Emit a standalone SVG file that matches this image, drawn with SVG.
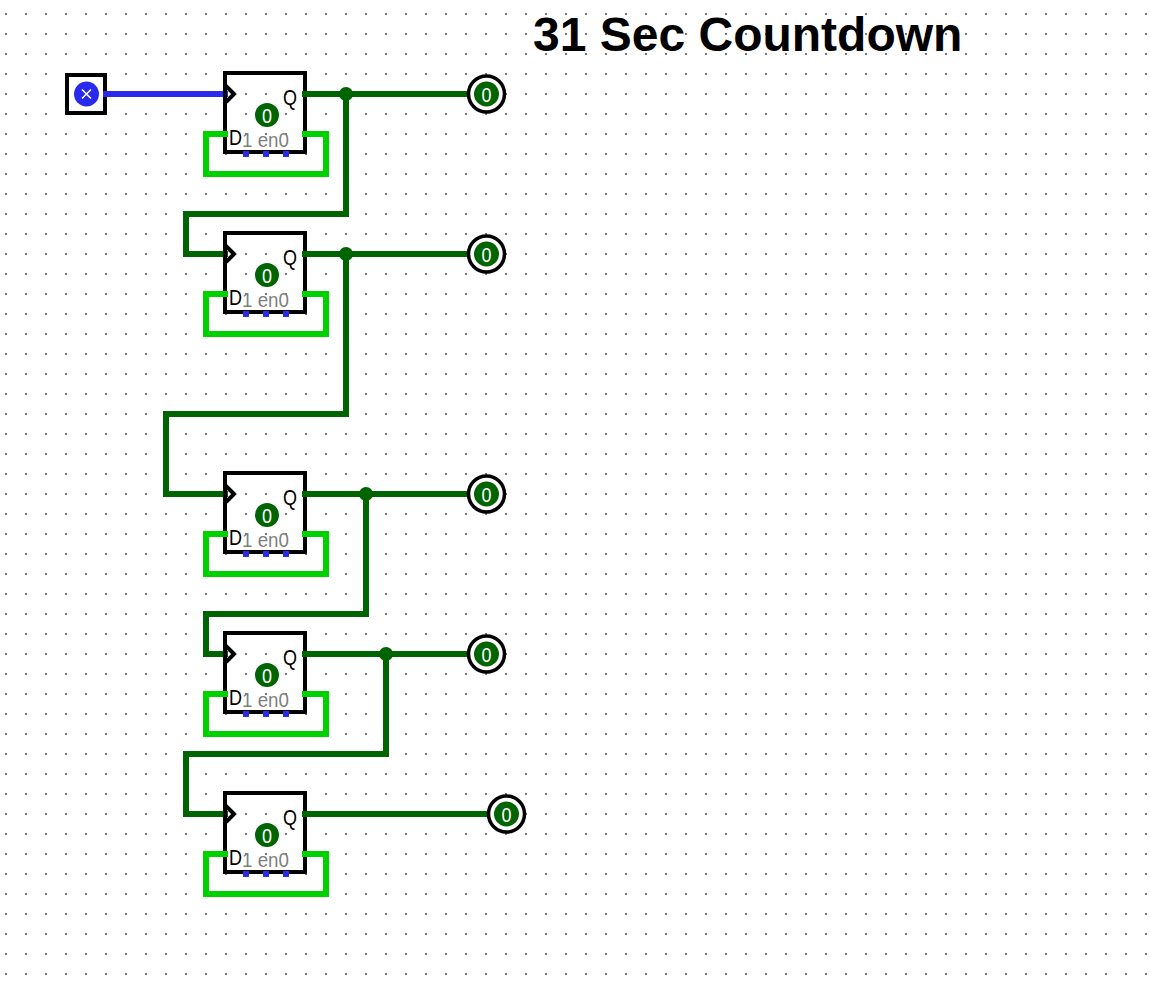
<svg xmlns="http://www.w3.org/2000/svg" width="1150" height="989" viewBox="0 0 1150 989">
<style>
text{font-family:"Liberation Sans",Arial,sans-serif}
.w{fill:none;stroke:#006400;stroke-width:6}
.loop{fill:none;stroke:#00d200;stroke-width:6}
.box{fill:none;stroke:#000;stroke-width:4}
.clk{fill:none;stroke:#000;stroke-width:4}
.val{fill:#006400}
.vt{fill:#fff;font-size:20px;text-anchor:middle}
.lab{fill:#000;font-size:22px}
.gl{fill:#808080;font-size:20px}
.pt{fill:#2a2aee}
.j{fill:#006400}
.ring{fill:#fff;stroke:#000;stroke-width:3.5}
</style>
<defs>
<pattern id="grid" width="20" height="20" patternUnits="userSpaceOnUse" x="0" y="0"><rect x="5" y="13" width="2" height="2" fill="#777"/></pattern>
</defs>
<rect width="1150" height="989" fill="#fff"/>
<rect id="dots" width="1150" height="980" fill="url(#grid)"/>
<text id="title" x="533" y="51" font-size="48" font-weight="bold" fill="#000">31 Sec Countdown</text>
<g id="clock">
<rect x="67" y="75" width="38" height="38" fill="#fff" stroke="#000" stroke-width="4"/>
<circle cx="86.500" cy="94" r="12.500" fill="#2a2aee"/>
<path d="M82 89.500l9 9M91 89.500l-9 9" stroke="#fff" stroke-width="1.500"/>
</g>
<g id="connectors">
<path d="M103 94H228" fill="none" stroke="#2a2aee" stroke-width="6"/>
<path class="w" d="M302 94H468M346 94V214H186V254H228"/>
<path class="w" d="M302 254H468M346 254V414H166V494H228"/>
<path class="w" d="M302 494H468M366 494V614H206V654H228"/>
<path class="w" d="M302 654H468M386 654V754H186V814H228"/>
<path class="w" d="M302 814H488"/>
<circle class="j" cx="346" cy="94" r="7"/>
<circle class="j" cx="346" cy="254" r="7"/>
<circle class="j" cx="366" cy="494" r="7"/>
<circle class="j" cx="386" cy="654" r="7"/>
</g>
<g id="ff0" transform="translate(0,0)">
<rect class="box" x="225" y="73" width="80" height="79"/>
<path class="w" d="M302 94H308"/>
<path class="loop" d="M228 134H206V174H326V134H302"/>
<path class="clk" d="M226 86L234 94L226 102"/>
<circle class="val" cx="267" cy="115" r="12"/>
<text class="vt" x="267" y="122.500" textLength="10" lengthAdjust="spacingAndGlyphs">0</text>
<text class="lab" x="283" y="105" textLength="14" lengthAdjust="spacingAndGlyphs">Q</text>
<text class="lab" x="229" y="145" textLength="13" lengthAdjust="spacingAndGlyphs">D</text>
<text class="gl" x="242" y="147" textLength="47" lengthAdjust="spacingAndGlyphs">1 en0</text>
<rect class="pt" x="243" y="151" width="6" height="6"/><rect class="pt" x="263" y="151" width="6" height="6"/><rect class="pt" x="283" y="151" width="6" height="6"/>
</g>
<g id="ff1" transform="translate(0,160)">
<rect class="box" x="225" y="73" width="80" height="79"/>
<path class="w" d="M302 94H308"/>
<path class="loop" d="M228 134H206V174H326V134H302"/>
<path class="clk" d="M226 86L234 94L226 102"/>
<circle class="val" cx="267" cy="115" r="12"/>
<text class="vt" x="267" y="122.500" textLength="10" lengthAdjust="spacingAndGlyphs">0</text>
<text class="lab" x="283" y="105" textLength="14" lengthAdjust="spacingAndGlyphs">Q</text>
<text class="lab" x="229" y="145" textLength="13" lengthAdjust="spacingAndGlyphs">D</text>
<text class="gl" x="242" y="147" textLength="47" lengthAdjust="spacingAndGlyphs">1 en0</text>
<rect class="pt" x="243" y="151" width="6" height="6"/><rect class="pt" x="263" y="151" width="6" height="6"/><rect class="pt" x="283" y="151" width="6" height="6"/>
</g>
<g id="ff2" transform="translate(0,400)">
<rect class="box" x="225" y="73" width="80" height="79"/>
<path class="w" d="M302 94H308"/>
<path class="loop" d="M228 134H206V174H326V134H302"/>
<path class="clk" d="M226 86L234 94L226 102"/>
<circle class="val" cx="267" cy="115" r="12"/>
<text class="vt" x="267" y="122.500" textLength="10" lengthAdjust="spacingAndGlyphs">0</text>
<text class="lab" x="283" y="105" textLength="14" lengthAdjust="spacingAndGlyphs">Q</text>
<text class="lab" x="229" y="145" textLength="13" lengthAdjust="spacingAndGlyphs">D</text>
<text class="gl" x="242" y="147" textLength="47" lengthAdjust="spacingAndGlyphs">1 en0</text>
<rect class="pt" x="243" y="151" width="6" height="6"/><rect class="pt" x="263" y="151" width="6" height="6"/><rect class="pt" x="283" y="151" width="6" height="6"/>
</g>
<g id="ff3" transform="translate(0,560)">
<rect class="box" x="225" y="73" width="80" height="79"/>
<path class="w" d="M302 94H308"/>
<path class="loop" d="M228 134H206V174H326V134H302"/>
<path class="clk" d="M226 86L234 94L226 102"/>
<circle class="val" cx="267" cy="115" r="12"/>
<text class="vt" x="267" y="122.500" textLength="10" lengthAdjust="spacingAndGlyphs">0</text>
<text class="lab" x="283" y="105" textLength="14" lengthAdjust="spacingAndGlyphs">Q</text>
<text class="lab" x="229" y="145" textLength="13" lengthAdjust="spacingAndGlyphs">D</text>
<text class="gl" x="242" y="147" textLength="47" lengthAdjust="spacingAndGlyphs">1 en0</text>
<rect class="pt" x="243" y="151" width="6" height="6"/><rect class="pt" x="263" y="151" width="6" height="6"/><rect class="pt" x="283" y="151" width="6" height="6"/>
</g>
<g id="ff4" transform="translate(0,720)">
<rect class="box" x="225" y="73" width="80" height="79"/>
<path class="w" d="M302 94H308"/>
<path class="loop" d="M228 134H206V174H326V134H302"/>
<path class="clk" d="M226 86L234 94L226 102"/>
<circle class="val" cx="267" cy="115" r="12"/>
<text class="vt" x="267" y="122.500" textLength="10" lengthAdjust="spacingAndGlyphs">0</text>
<text class="lab" x="283" y="105" textLength="14" lengthAdjust="spacingAndGlyphs">Q</text>
<text class="lab" x="229" y="145" textLength="13" lengthAdjust="spacingAndGlyphs">D</text>
<text class="gl" x="242" y="147" textLength="47" lengthAdjust="spacingAndGlyphs">1 en0</text>
<rect class="pt" x="243" y="151" width="6" height="6"/><rect class="pt" x="263" y="151" width="6" height="6"/><rect class="pt" x="283" y="151" width="6" height="6"/>
</g>
<g id="out0"><circle class="ring" cx="486.500" cy="94" r="18"/><circle class="val" cx="486.500" cy="94" r="12.500"/><text class="vt" x="486.500" y="101.500" textLength="10" lengthAdjust="spacingAndGlyphs">0</text></g>
<g id="out1"><circle class="ring" cx="486.500" cy="254" r="18"/><circle class="val" cx="486.500" cy="254" r="12.500"/><text class="vt" x="486.500" y="261.500" textLength="10" lengthAdjust="spacingAndGlyphs">0</text></g>
<g id="out2"><circle class="ring" cx="486.500" cy="494" r="18"/><circle class="val" cx="486.500" cy="494" r="12.500"/><text class="vt" x="486.500" y="501.500" textLength="10" lengthAdjust="spacingAndGlyphs">0</text></g>
<g id="out3"><circle class="ring" cx="486.500" cy="654" r="18"/><circle class="val" cx="486.500" cy="654" r="12.500"/><text class="vt" x="486.500" y="661.500" textLength="10" lengthAdjust="spacingAndGlyphs">0</text></g>
<g id="out4"><circle class="ring" cx="506.500" cy="814" r="18"/><circle class="val" cx="506.500" cy="814" r="12.500"/><text class="vt" x="506.500" y="821.500" textLength="10" lengthAdjust="spacingAndGlyphs">0</text></g>
</svg>
